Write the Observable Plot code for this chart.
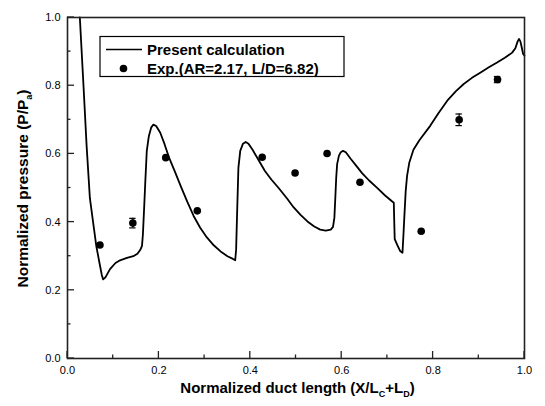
<!DOCTYPE html>
<html>
<head>
<meta charset="utf-8">
<script src="https://cdn.jsdelivr.net/npm/d3@7"></script>
<script src="https://cdn.jsdelivr.net/npm/@observablehq/plot@0.6"></script>
<style>
  html, body { margin: 0; padding: 0; background: white; }
</style>
</head>
<body>
<div id="chart"></div>
<script>
// ---- Data ----
const calcX = [0.027, 0.035, 0.042, 0.049, 0.056, 0.063, 0.070, 0.075, 0.078, 0.083, 0.093, 0.105, 0.115, 0.130, 0.144, 0.153, 0.159, 0.163, 0.165, 0.168, 0.170, 0.1735, 0.178, 0.183, 0.188, 0.194, 0.203, 0.212, 0.222, 0.235, 0.248, 0.262, 0.276, 0.290, 0.305, 0.320, 0.335, 0.350, 0.362, 0.367, 0.369, 0.371, 0.374, 0.378, 0.384, 0.390, 0.396, 0.405, 0.418, 0.432, 0.446, 0.462, 0.480, 0.495, 0.510, 0.525, 0.540, 0.553, 0.565, 0.576, 0.581, 0.584, 0.586, 0.588, 0.590, 0.594, 0.598, 0.603, 0.609, 0.620, 0.632, 0.645, 0.660, 0.677, 0.695, 0.710, 0.714, 0.715, 0.716, 0.722, 0.728, 0.733, 0.735, 0.737, 0.740, 0.743, 0.748, 0.757, 0.770, 0.794, 0.812, 0.831, 0.850, 0.867, 0.885, 0.904, 0.922, 0.940, 0.957, 0.973, 0.980, 0.985, 0.988, 0.991, 0.994, 0.997, 1.0];
const calcY = [1.0, 0.80, 0.62, 0.47, 0.40, 0.33, 0.28, 0.245, 0.232, 0.238, 0.262, 0.280, 0.288, 0.295, 0.300, 0.307, 0.318, 0.33, 0.364, 0.45, 0.511, 0.609, 0.652, 0.677, 0.686, 0.682, 0.662, 0.630, 0.590, 0.548, 0.505, 0.460, 0.418, 0.384, 0.355, 0.332, 0.314, 0.300, 0.292, 0.288, 0.32, 0.42, 0.56, 0.609, 0.630, 0.635, 0.630, 0.612, 0.582, 0.550, 0.525, 0.500, 0.470, 0.443, 0.421, 0.402, 0.387, 0.378, 0.375, 0.378, 0.386, 0.413, 0.47, 0.53, 0.570, 0.595, 0.605, 0.609, 0.605, 0.585, 0.565, 0.543, 0.522, 0.501, 0.478, 0.461, 0.457, 0.40, 0.350, 0.332, 0.315, 0.310, 0.36, 0.413, 0.49, 0.535, 0.575, 0.612, 0.640, 0.683, 0.720, 0.756, 0.784, 0.805, 0.823, 0.839, 0.854, 0.868, 0.882, 0.897, 0.910, 0.930, 0.937, 0.930, 0.912, 0.893, 0.888];

const expX = [0.071, 0.143, 0.215, 0.284, 0.426, 0.498, 0.568, 0.640, 0.774, 0.857, 0.941];
const expY = [0.333, 0.397, 0.589, 0.433, 0.590, 0.544, 0.601, 0.517, 0.373, 0.700, 0.818];
const expErr = [0, 0.014, 0, 0, 0, 0, 0, 0, 0, 0.017, 0.009];

const xMajor = [0, 0.2, 0.4, 0.6, 0.8, 1.0];
const xMinor = [0.1, 0.3, 0.5, 0.7, 0.9];
const yMajor = [0, 0.2, 0.4, 0.6, 0.8, 1.0];
const yMinor = [0.1, 0.3, 0.5, 0.7, 0.9];

const legendLabels = ["Present calculation", "Exp.(AR=2.17, L/D=6.82)"];

// ---- Build tables ----
const calc = calcX.map((x, i) => ({x, y: calcY[i]}));
const exp = expX.map((x, i) => ({x, y: expY[i], e: expErr[i]}));
const errs = exp.filter(d => d.e > 0);

const W = 545, H = 406;
const mL = 67, mR = 21, mT = 17, mB = 48;
const cap = 0.007;
const FONT = "'Liberation Sans', Arial, Helvetica, sans-serif";
const AX = "#222";

const chart = Plot.plot({
  width: W, height: H,
  marginLeft: mL, marginRight: mR, marginTop: mT, marginBottom: mB,
  style: {fontFamily: FONT, fontSize: "11px", color: "black", background: "white"},
  x: {domain: [0, 1]},
  y: {domain: [0, 1]},
  marks: [
    Plot.axisX({ticks: xMajor, tickSize: 0, tickPadding: 8, tickFormat: d3.format(".1f"), label: null}),
    Plot.axisY({ticks: yMajor, tickSize: 0, tickPadding: 7, tickFormat: d3.format(".1f"), label: null}),
    Plot.line(calc, {x: "x", y: "y", stroke: "black", strokeWidth: 1.8}),
    Plot.ruleX(errs, {x: "x", y1: d => d.y - d.e, y2: d => d.y + d.e, stroke: "black", strokeWidth: 1.2}),
    Plot.ruleY(errs, {y: d => d.y - d.e, x1: d => d.x - cap, x2: d => d.x + cap, stroke: "black", strokeWidth: 1.2}),
    Plot.ruleY(errs, {y: d => d.y + d.e, x1: d => d.x - cap, x2: d => d.x + cap, stroke: "black", strokeWidth: 1.2}),
    Plot.dot(exp, {x: "x", y: "y", r: 3.8, fill: "black", stroke: "none"}),
    Plot.frame({stroke: AX, strokeWidth: 1.6})
  ]
});

document.getElementById("chart").appendChild(chart);

const svg = d3.select(chart);
const sx = chart.scale("x"), sy = chart.scale("y");
const X = v => sx.apply(v), Y = v => sy.apply(v);

// ---- Inward ticks (positioned through Plot's scales) ----
const tk = (vals, len, axis) => {
  for (const v of vals) {
    const l = svg.append("line").attr("stroke", AX).attr("stroke-width", 1.3);
    if (axis === "x") l.attr("x1", X(v)).attr("x2", X(v)).attr("y1", Y(0)).attr("y2", Y(0) - len);
    else l.attr("y1", Y(v)).attr("y2", Y(v)).attr("x1", X(0)).attr("x2", X(0) + len);
  }
};
tk(xMajor, 7, "x"); tk(xMinor, 3.5, "x");
tk(yMajor, 7, "y"); tk(yMinor, 3.5, "y");

// ---- Axis titles with subscripts ----
const xt = svg.append("text")
  .attr("x", (X(0) + X(1)) / 2 + 2).attr("y", 393)
  .attr("text-anchor", "middle")
  .attr("font-family", FONT).attr("font-weight", "bold").attr("font-size", 15)
  .attr("fill", "black");
xt.append("tspan").text("Normalized duct length (X/L");
xt.append("tspan").attr("font-size", 9).attr("dy", 4).text("C");
xt.append("tspan").attr("dy", -4).text("+L");
xt.append("tspan").attr("font-size", 9).attr("dy", 4).text("D");
xt.append("tspan").attr("dy", -4).text(")");

const yt = svg.append("text")
  .attr("transform", `translate(28,${(Y(0) + Y(1)) / 2 + 1}) rotate(-90)`)
  .attr("text-anchor", "middle")
  .attr("font-family", FONT).attr("font-weight", "bold").attr("font-size", 15.5)
  .attr("fill", "black");
yt.append("tspan").text("Normalized pressure (P/P");
yt.append("tspan").attr("font-size", 9).attr("dy", 4).text("a");
yt.append("tspan").attr("dy", -4).text(")");

// ---- Legend ----
const lg = svg.append("g").attr("text-anchor", "start");
lg.append("rect").attr("x", 100).attr("y", 36.5).attr("width", 244).attr("height", 40)
  .attr("fill", "white").attr("stroke", "black").attr("stroke-width", 1.2);
lg.append("line").attr("x1", 106).attr("x2", 142).attr("y1", 49.5).attr("y2", 49.5)
  .attr("stroke", "black").attr("stroke-width", 1.6);
lg.append("circle").attr("cx", 123.5).attr("cy", 68.5).attr("r", 3.8).attr("fill", "black");
lg.append("text").attr("x", 147).attr("y", 54.5).attr("text-anchor", "start")
  .attr("font-family", FONT).attr("font-weight", "bold").attr("font-size", 15).attr("fill", "black")
  .text(legendLabels[0]);
lg.append("text").attr("x", 147).attr("y", 73.5).attr("text-anchor", "start")
  .attr("font-family", FONT).attr("font-weight", "bold").attr("font-size", 15).attr("fill", "black")
  .text(legendLabels[1]);
</script>
</body>
</html>
